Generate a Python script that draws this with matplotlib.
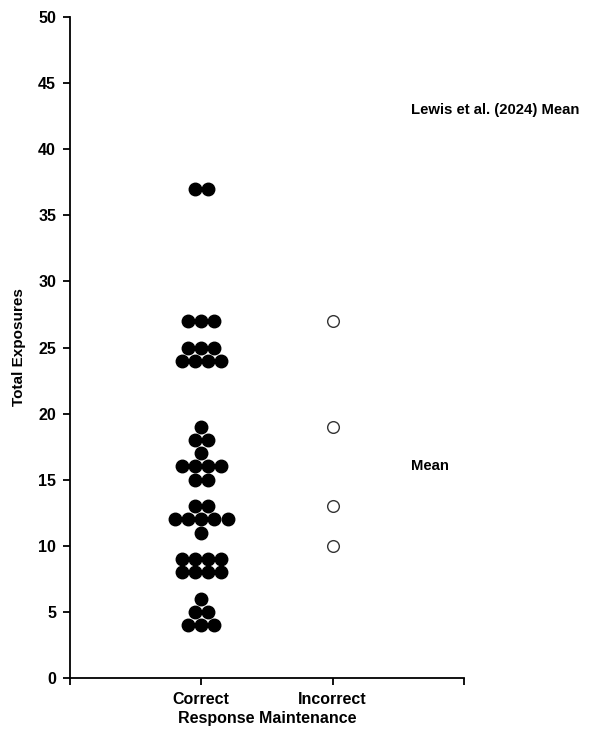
import numpy as np
import matplotlib.pyplot as plt

plt.rcParams['font.family'] = ['Liberation Sans', 'DejaVu Sans']

# total exposures per participant, as counts per value
correct_values = [37, 27, 25, 24, 19, 18, 17, 16, 15, 13, 12, 11, 9, 8, 6, 5, 4]
correct_counts = [2, 3, 3, 4, 1, 2, 1, 4, 2, 2, 5, 1, 4, 4, 1, 2, 3]
incorrect_values = [27, 19, 13, 10]
incorrect_counts = [1, 1, 1, 1]

categories = ['Correct', 'Incorrect']
mean_labels = ['Lewis et al. (2024) Mean', 'Mean']
mean_levels = [43, 16]


def swarm(center, values, counts, step=0.1):
    xs, ys = [], []
    for v, n in zip(values, counts):
        offs = (np.arange(n) - (n - 1) / 2) * step
        xs.extend(center + offs)
        ys.extend([v] * n)
    return np.array(xs), np.array(ys)


fig = plt.figure(figsize=(6.06, 7.34), dpi=100)
ax = fig.add_axes([0.1155, 0.0763, 0.65, 0.9005])

x1, y1 = swarm(1, correct_values, correct_counts)
ax.plot(x1, y1, 'o', color='black', markersize=9.0, linestyle='none', clip_on=False)
x2, y2 = swarm(2, incorrect_values, incorrect_counts)
ax.plot(x2, y2, 'o', markerfacecolor='white', markeredgecolor='#333333',
        markeredgewidth=1.0, markersize=8.4, linestyle='none', clip_on=False)

for lab, lev in zip(mean_labels, mean_levels):
    ax.text(2.6, lev, lab, fontsize=10.7, fontweight='bold', va='center', ha='left',
            clip_on=False)

ax.set_xlim(0, 3)
ax.set_ylim(0, 50)
ax.set_yticks(np.arange(0, 51, 5))
ax.set_xticks([0, 1, 2, 3])
ax.set_xticklabels([''] + categories + [''])
for lbl in ax.get_xticklabels() + ax.get_yticklabels():
    lbl.set_fontweight('bold')
    lbl.set_fontsize(11.5)

ax.spines['top'].set_visible(False)
ax.spines['right'].set_visible(False)
ax.spines['left'].set_linewidth(1.3)
ax.spines['bottom'].set_linewidth(1.3)
ax.tick_params(direction='out', length=5, width=1.3, pad=5)

ax.set_xlabel('Response Maintenance', fontsize=11.5, fontweight='bold', labelpad=3)
ax.set_ylabel('Total Exposures', fontsize=11, fontweight='bold', labelpad=9)

fig.savefig('out.png', dpi=100)
